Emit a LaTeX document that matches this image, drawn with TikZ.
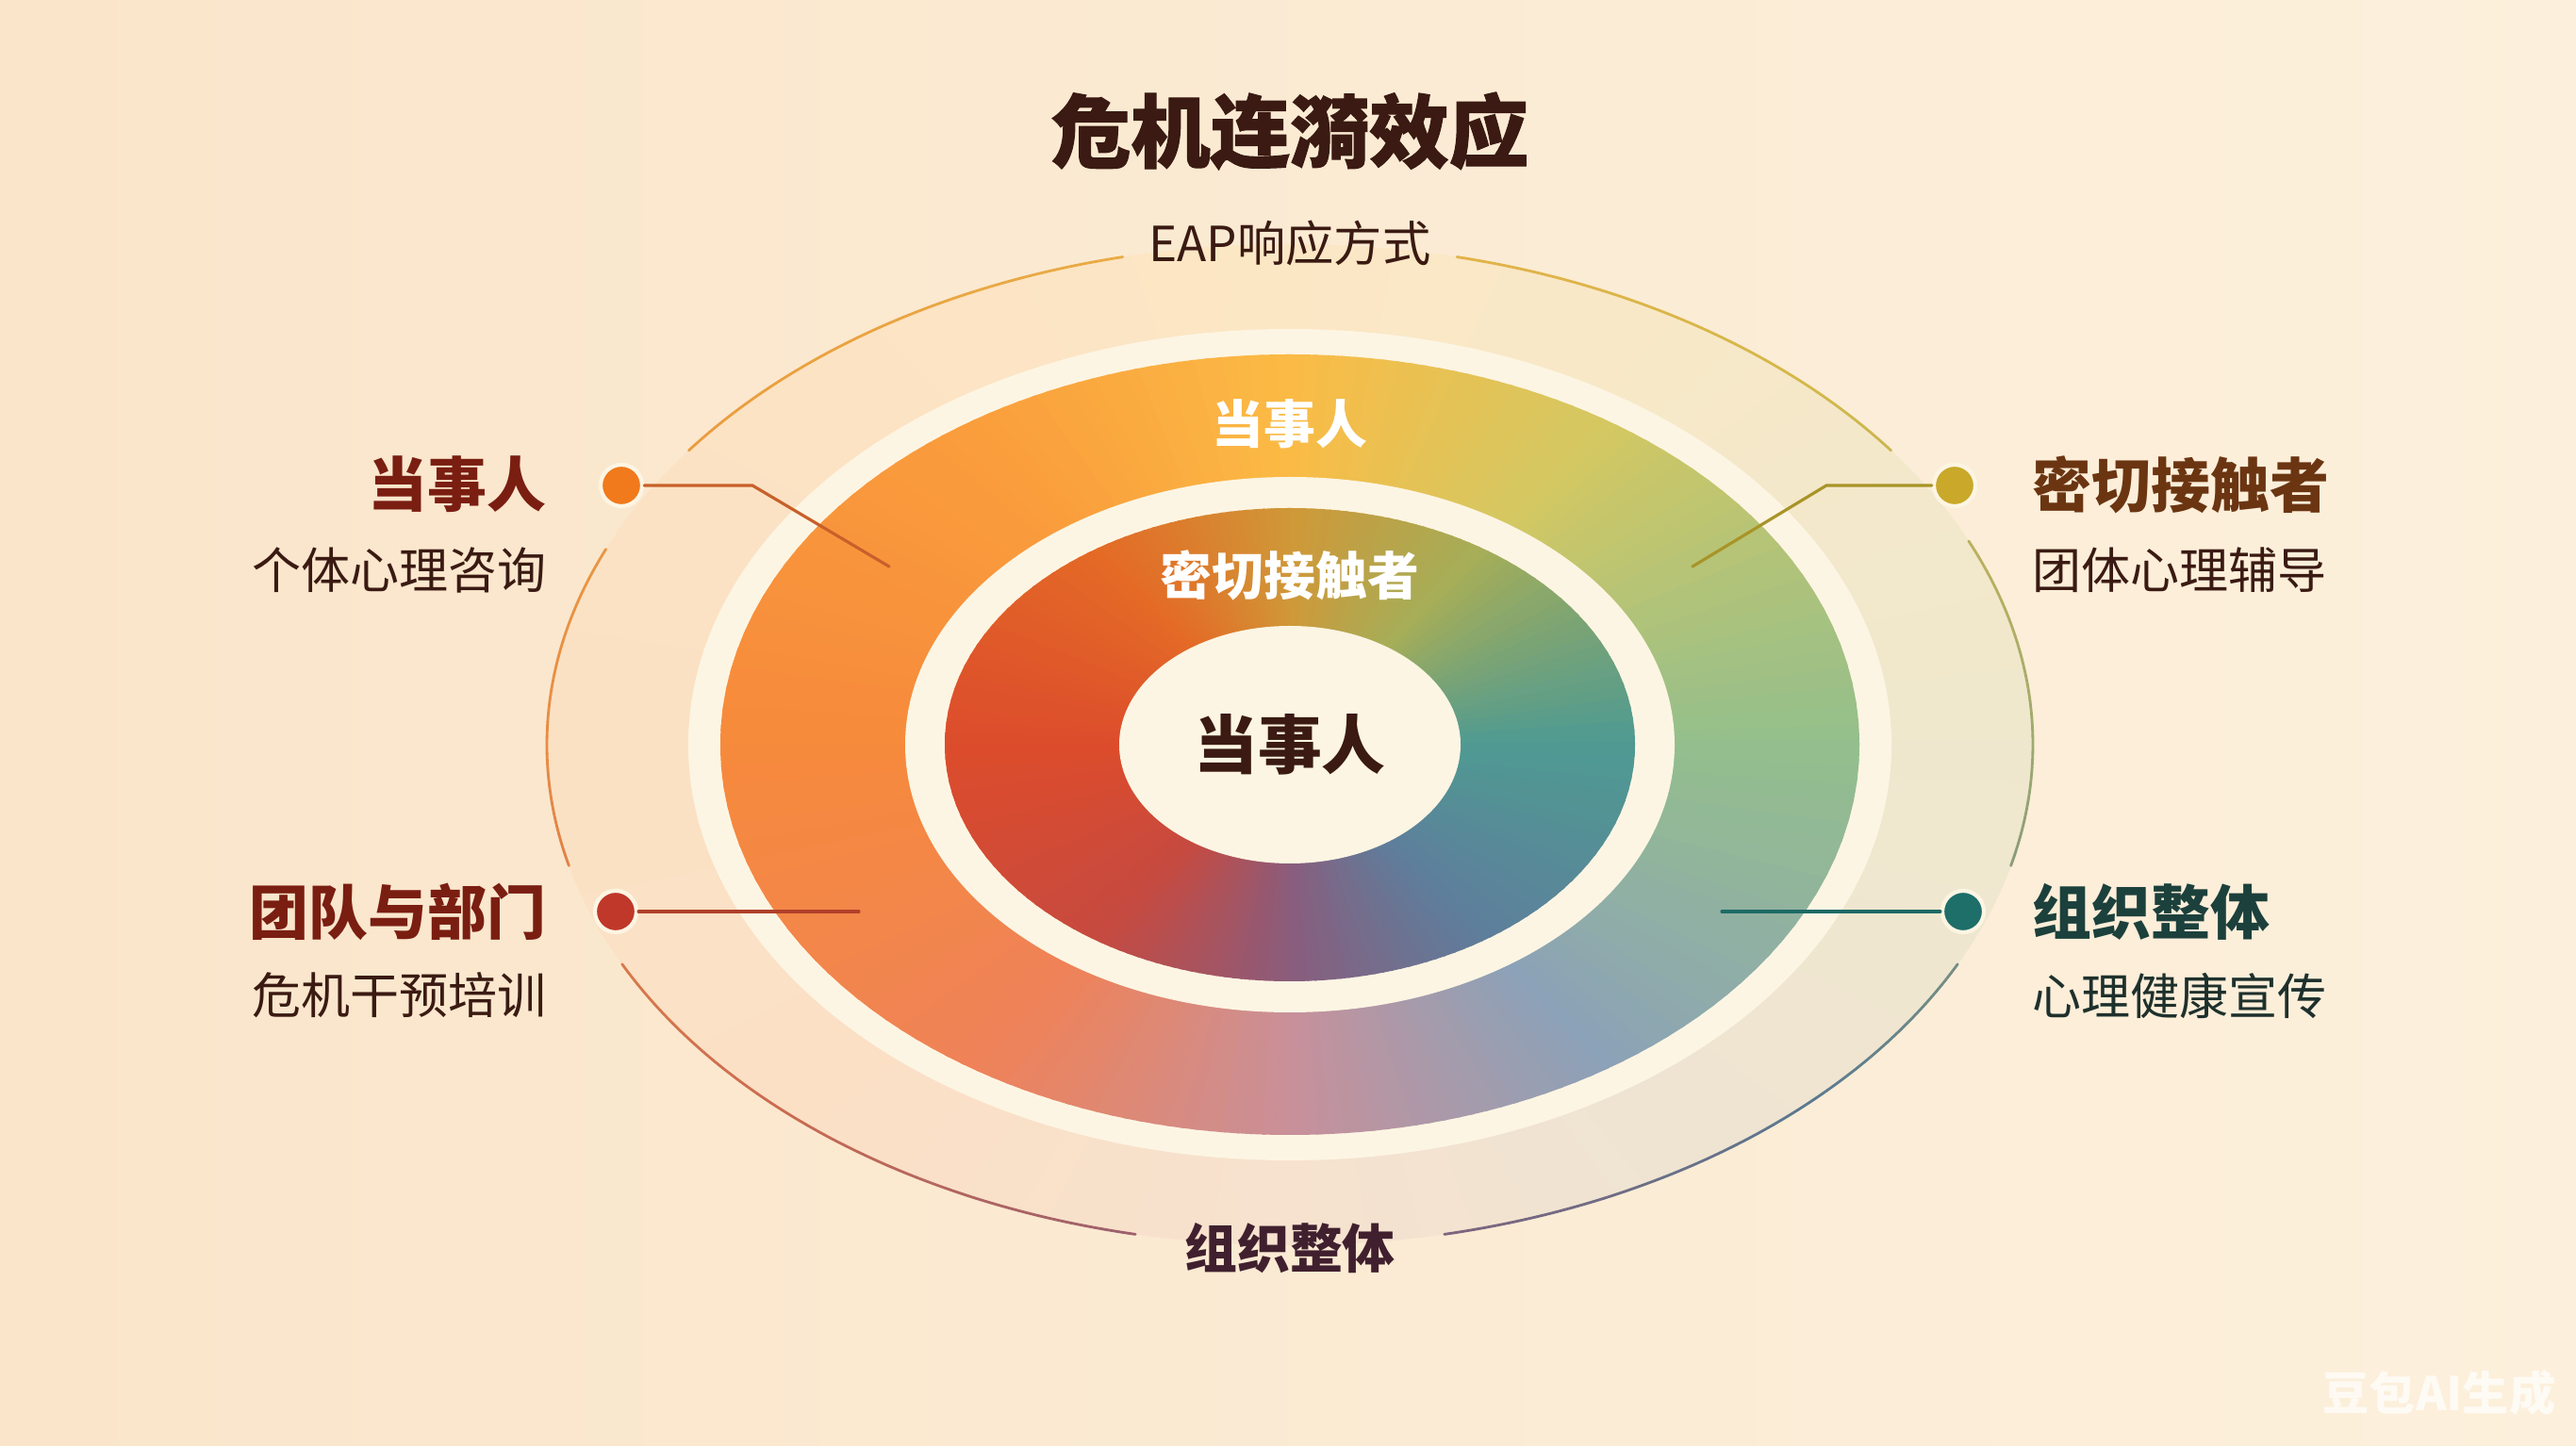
\documentclass[tikz,border=0pt]{standalone}
\usepackage{fontspec}
\setmainfont{Noto Sans CJK SC}
\newfontfamily\heavyfont[BoldFeatures={FakeBold=1.2}]{Noto Sans CJK SC}

\definecolor{bgleft}{HTML}{FAE5CA}
\definecolor{bgright}{HTML}{FCF0DC}
\definecolor{bgmid}{HTML}{FCEDD6}
\definecolor{cream}{HTML}{FDF5E3}
% big ring, every 45 degrees from the right
\definecolor{big0}{HTML}{94BF8C}
\definecolor{big1}{HTML}{D4C862}
\definecolor{big2}{HTML}{FBBB45}
\definecolor{big3}{HTML}{FA9E3C}
\definecolor{big4}{HTML}{F68A3C}
\definecolor{big5}{HTML}{EF8258}
\definecolor{big6}{HTML}{C8909A}
\definecolor{big7}{HTML}{8CA2B8}
\colorlet{big8}{big0}
% middle ring
\definecolor{mid0}{HTML}{4F9A92}
\definecolor{mid1}{HTML}{A6AE58}
\definecolor{mid2}{HTML}{D09838}
\definecolor{mid3}{HTML}{E46A26}
\definecolor{mid4}{HTML}{DC4C2C}
\definecolor{mid5}{HTML}{C64A40}
\definecolor{mid6}{HTML}{8A5C7C}
\definecolor{mid7}{HTML}{5E7E9C}
\colorlet{mid8}{mid0}
% outer thin line
\definecolor{line0}{HTML}{A0AA70}
\definecolor{line1}{HTML}{D4B84A}
\definecolor{line2}{HTML}{E8B048}
\definecolor{line3}{HTML}{EAA040}
\definecolor{line4}{HTML}{E88C44}
\definecolor{line5}{HTML}{CC6C50}
\definecolor{line6}{HTML}{8A5C78}
\definecolor{line7}{HTML}{5A7A90}
\colorlet{line8}{line0}

\definecolor{cA}{HTML}{F07A1C}
\definecolor{cB}{HTML}{C9A82A}
\definecolor{cC}{HTML}{C0382A}
\definecolor{cD}{HTML}{1E6E6A}
\definecolor{lkA}{HTML}{C8602A}
\definecolor{lkB}{HTML}{A89428}
\definecolor{lkC}{HTML}{B0402A}
\definecolor{lkD}{HTML}{1E6A66}
\definecolor{hdRed}{HTML}{7A1E12}
\definecolor{hdBrown}{HTML}{6B3512}
\definecolor{hdTeal}{HTML}{1C403C}
\definecolor{txDark}{HTML}{3A1A12}
\definecolor{txTeal}{HTML}{1E302C}
\definecolor{txPlum}{HTML}{40202E}

% colour "cur" at an angle, mixed from palette #2
\newcommand{\ringcolor}[2]{%
  \pgfmathsetmacro{\ringang}{mod(#1,360)}%
  \pgfmathtruncatemacro{\ringk}{floor(\ringang/45)}%
  \pgfmathtruncatemacro{\ringn}{\ringk+1}%
  \pgfmathtruncatemacro{\ringt}{(\ringang-45*\ringk)*100/45}%
  \colorlet{cur}{#2\ringn!\ringt!#2\ringk}%
}
% piece of the outer thin ellipse
\newcommand{\ripplearc}[2]{%
  \foreach \i in {0,...,19}{%
    \pgfmathsetmacro{\ta}{#1+\i*(#2-#1)/20}%
    \pgfmathsetmacro{\tb}{#1+(\i+1)*(#2-#1)/20}%
    \ringcolor{(\ta+\tb)/2}{line}%
    \draw[cur,line width=0.8pt] (\ta:7.88 and 5.31) arc[start angle=\ta,end angle=\tb,x radius=7.88,y radius=5.31];
  }%
}

\begin{document}
\begin{tikzpicture}[line cap=round,
  dot node/.style={circle,draw=cream,line width=1.2pt,minimum size=.44cm,inner sep=0pt},
  head node/.style={font=\fontsize{17.9}{20}\selectfont\bfseries,inner sep=0pt},
  sub node/.style={font=\fontsize{14.8}{17}\selectfont,inner sep=0pt},
  ring label/.style={font=\fontsize{15.6}{18}\selectfont\bfseries,text=white,inner sep=0pt},
  link/.style={line width=0.9pt}]
\useasboundingbox (-13.68,-7.44) rectangle (13.64,7.90);
\shade[left color=bgleft,right color=bgright] (-13.68,-7.44) rectangle (13.64,7.90);

% faint outer zone
\begin{scope}
\clip (0,0) ellipse [x radius=7.88,y radius=5.31];
\foreach \a [evaluate=\a as \b using \a+3.4] in {0,3,...,357}{
  \ringcolor{\a+1.5}{big}
  \fill[cur!12!bgmid] (0,0) -- (\a:10) -- (\b:10) -- cycle;
}
\end{scope}
\fill[cream] (0,0) ellipse [x radius=6.38,y radius=4.41];

% big ring
\begin{scope}
\clip (0,0) ellipse [x radius=6.04,y radius=4.14];
\foreach \a [evaluate=\a as \b using \a+2.6] in {0,2,...,358}{
  \ringcolor{\a+1}{big}
  \fill[cur] (0,0) -- (\a:9) -- (\b:9) -- cycle;
}
\end{scope}
\fill[cream] (0,0) ellipse [x radius=4.08,y radius=2.84];

% middle ring
\begin{scope}
\clip (0,0) ellipse [x radius=3.66,y radius=2.51];
\foreach \a [evaluate=\a as \b using \a+2.6] in {0,2,...,358}{
  \ringcolor{\a+1}{mid}
  \fill[cur] (0,0) -- (\a:9) -- (\b:9) -- cycle;
}
\end{scope}
\fill[cream] (0,0) ellipse [x radius=1.81,y radius=1.26];

% outer line, open at the labels and dots
\ripplearc{36}{77}
\ripplearc{103}{144}
\ripplearc{157}{194}
\ripplearc{206}{258}
\ripplearc{282}{334}
\ripplearc{346}{384}

\node[font=\heavyfont\bfseries\fontsize{24}{28}\selectfont,text=txDark] (title) at (0,6.51) {危机连漪效应};
\node[font=\fontsize{14.6}{17}\selectfont,text=txDark] (eap) at (0,5.32) {EAP响应方式};
\node[font=\fontsize{15.9}{18}\selectfont\bfseries,text=txPlum] (org) at (0,-5.34) {组织整体};

\node[ring label] (ringA) at (0,3.40) {当事人};
\node[ring label] (ringB) at (0,1.80) {密切接触者};
\node[font=\fontsize{19.3}{22}\selectfont\bfseries,text=txDark] (core) at (0,0) {当事人};

\node[dot node,fill=cA] (dotA) at (-7.09,2.75) {};
\node[dot node,fill=cB] (dotB) at (7.05,2.75) {};
\node[dot node,fill=cC] (dotC) at (-7.15,-1.77) {};
\node[dot node,fill=cD] (dotD) at (7.14,-1.77) {};

\coordinate (bendA) at (-5.70,2.75);
\coordinate (endA) at (-4.25,1.89);
\coordinate (bendB) at (5.69,2.75);
\coordinate (endB) at (4.27,1.89);
\coordinate (endC) at (-4.57,-1.77);
\coordinate (endD) at (4.58,-1.77);

\draw[link,lkA] (dotA) -- (bendA) -- (endA);
\draw[link,lkB] (dotB) -- (bendB) -- (endB);
\draw[link,lkC] (dotC) -- (endC);
\draw[link,lkD] (dotD) -- (endD);

\node[head node,text=hdRed,anchor=east] (labA) at (-7.88,2.76) {当事人};
\node[sub node,text=txDark,anchor=east] (subA) at (-7.88,1.85) {个体心理咨询};
\node[head node,text=hdBrown,anchor=west] (labB) at (7.87,2.76) {密切接触者};
\node[sub node,text=txDark,anchor=west] (subB) at (7.87,1.85) {团体心理辅导};
\node[head node,text=hdRed,anchor=east] (labC) at (-7.88,-1.77) {团队与部门};
\node[sub node,text=txDark,anchor=east] (subC) at (-7.88,-2.66) {危机干预培训};
\node[head node,text=hdTeal,anchor=west] (labD) at (7.87,-1.77) {组织整体};
\node[sub node,text=txTeal,anchor=west] (subD) at (7.87,-2.66) {心理健康宣传};

\node[font=\fontsize{14}{16}\selectfont\bfseries,text=white,opacity=0.7] (mark) at (12.19,-6.88) {豆包AI生成};
\end{tikzpicture}
\end{document}
